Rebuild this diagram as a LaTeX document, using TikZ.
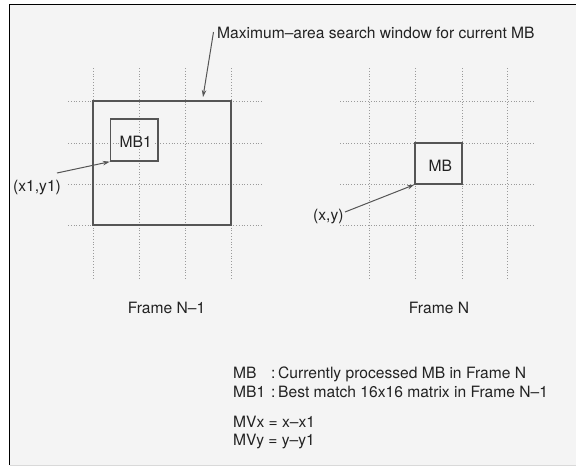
\documentclass[tikz,border=0pt]{standalone}
\usepackage{fontspec}
\setmainfont{TeX Gyre Heros}
\usetikzlibrary{arrows.meta}
\definecolor{bg}{HTML}{F4F4F4}
\definecolor{boxc}{HTML}{555555}
\definecolor{gridc}{HTML}{9A9A9A}
\definecolor{txt}{HTML}{222222}
\begin{document}
\begin{tikzpicture}[x=1pt,y=-1pt,
  lab/.style={font=\fontsize{15.6}{18}\selectfont, text=txt, inner sep=0pt, anchor=base west},
  clab/.style={font=\fontsize{15.6}{18}\selectfont, text=txt, inner sep=0pt, anchor=base},
  gridline/.style={draw=gridc, line width=0.8pt, dash pattern=on 1pt off 1.8pt},
  wbox/.style={draw=boxc, line width=1.4pt, inner sep=0pt, font=\fontsize{15.6}{18}\selectfont, text=txt},
  arr/.style={draw=boxc, line width=1pt, -{Stealth[length=7pt,width=4.5pt]}}]
\useasboundingbox (0,0) rectangle (576,467);
% frame
\fill[white] (0,0) rectangle (576,467);
\fill[bg] (10,5) rectangle (576,465);
\draw[black, line width=1.8pt] (9.5,465) -- (9.5,4.5) -- (576,4.5);
\draw[gray!30, line width=0.8pt] (10,465.5) -- (576,465.5);
% left grid
\foreach \x in {93,139,185,231} \draw[gridline] (\x,68) -- (\x,280);
\foreach \y in {101,143,184,225} \draw[gridline] (68,\y) -- (263,\y);
% right grid
\foreach \x in {369,415,462,507} \draw[gridline] (\x,68) -- (\x,280);
\foreach \y in {101,143,184,225} \draw[gridline] (340,\y) -- (535,\y);
% boxes
\node[wbox, minimum width=138pt, minimum height=124pt] (win) at (162,163) {};
\node[wbox, minimum width=47.5pt, minimum height=42pt] (mb1box) at (134.25,140) {};
\node[wbox, minimum width=47pt, minimum height=41pt] (mbbox) at (438.5,163.5) {};
\node[lab, fill=bg, inner sep=1pt] (mb1lab) at (118.5,147.5) {MB1};
\node[lab, fill=bg, inner sep=1pt] (mblab) at (427.5,171) {MB};
% labels
\node[lab] (maxlab) at (217,38) {Maximum–area search window for current MB};
\node[lab] (xy1lab) at (13,191) {(x1,y1)};
\node[lab] (xylab) at (313,220) {(x,y)};
\node[clab] (fn1) at (166.5,313) {Frame N–1};
\node[clab] (fn) at (439,313) {Frame N};
% legend
\node[lab] (l1a) at (233,378) {MB};
\node[lab] (l1b) at (271,378) {:};
\node[lab] (l1c) at (278,378) {Currently processed MB in Frame N};
\node[lab] (l2a) at (233,397) {MB1};
\node[lab] (l2b) at (271,397) {:};
\node[lab] (l2c) at (278,397) {Best match 16x16 matrix in Frame N–1};
\node[lab] (l3) at (233,427) {MVx = x–x1};
\node[lab] (l4) at (233,445) {MVy = y–y1};
% arrows
\coordinate (s1) at (213.5,32);
\coordinate (e1) at (203,97);
\draw[arr] (s1) -- (e1);
\coordinate (s2) at (57,173);
\draw[arr] (s2) -- (mb1box.south west);
\coordinate (s3) at (345,212);
\draw[arr] (s3) -- (mbbox.south west);
\end{tikzpicture}
\end{document}
